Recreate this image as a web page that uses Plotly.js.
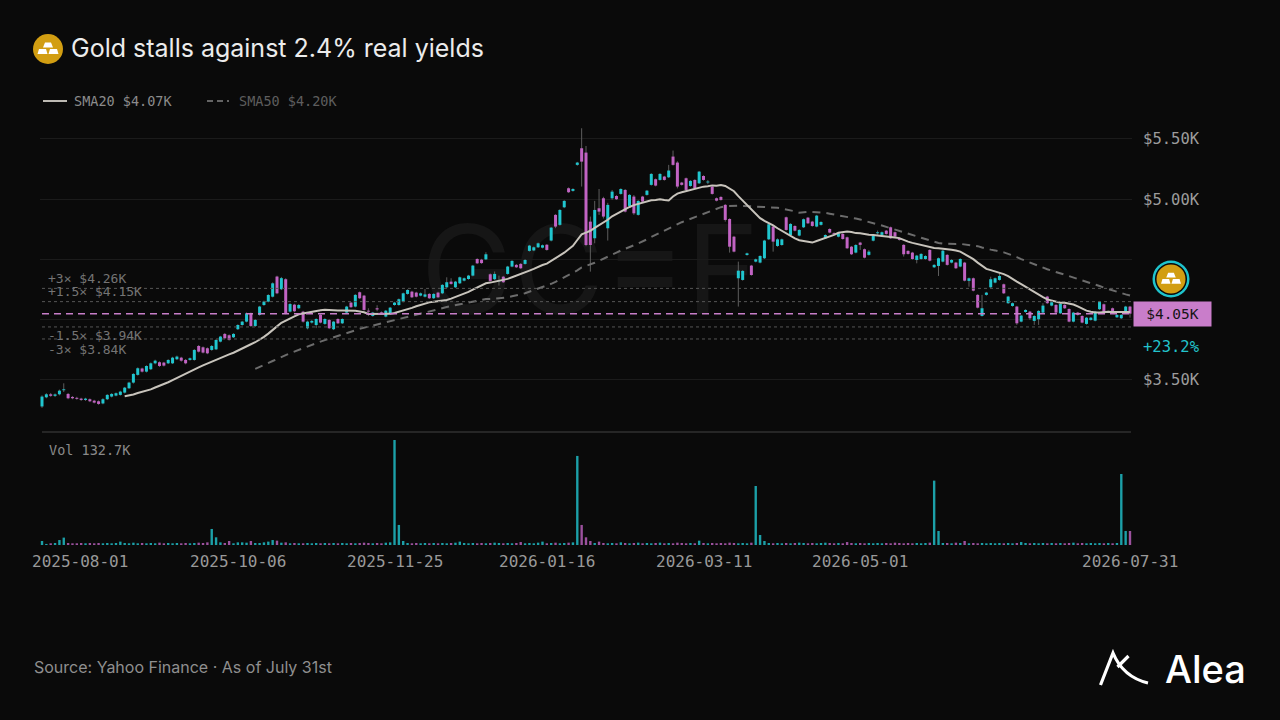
<!DOCTYPE html>
<html>
<head>
<meta charset="utf-8">
<script src="https://cdn.plot.ly/plotly-3.0.1.min.js"></script>
<style>
  html, body { margin: 0; padding: 0; background: #0a0a0a; }
  #chart { width: 1280px; height: 720px; }
</style>
</head>
<body>
<div id="chart"></div>
<script>
// GC=F daily sessions, 2025-08-01 .. 2026-07-31 (251 bars)
const open = [
  3280, 3356, 3381, 3368, 3381, 3415, 3384, 3359, 3350, 3345,
  3334, 3340, 3328, 3323, 3305, 3340, 3362, 3370, 3376, 3395,
  3431, 3478, 3542, 3595, 3569, 3589, 3638, 3647, 3644, 3638,
  3638, 3672, 3685, 3666, 3666, 3666, 3782, 3771, 3763, 3749,
  3754, 3818, 3882, 3871, 3854, 3921, 3956, 3984, 4053, 3948,
  4040, 4122, 4150, 4191, 4358, 4253, 4336, 4067, 4125, 4095,
  4067, 3929, 3976, 3956, 4040, 3965, 3998, 3921, 4006, 3970,
  4059, 4142, 4109, 4228, 4200, 4075, 4031, 4095, 4060, 4026,
  4053, 4122, 4122, 4150, 4214, 4233, 4225, 4200, 4191, 4214,
  4178, 4225, 4219, 4269, 4316, 4269, 4302, 4324, 4338, 4366,
  4504, 4498, 4501, 4377, 4336, 4320, 4357, 4380, 4441, 4455,
  4463, 4463, 4571, 4575, 4601, 4598, 4622, 4657, 4870, 4787,
  4933, 5091, 5069, 5285, 5423, 5387, 4814, 4676, 4925, 5008,
  4759, 5008, 5027, 5044, 5077, 4944, 5022, 4870, 5022, 5036,
  5119, 5166, 5160, 5188, 5182, 5354, 5304, 5138, 5174, 5110,
  5160, 5132, 5193, 5140, 5105, 5008, 5019, 4953, 4836, 4689,
  4344, 4330, 4537, 4449, 4482, 4474, 4510, 4667, 4773, 4612,
  4620, 4850, 4703, 4778, 4698, 4767, 4847, 4814, 4773, 4787,
  4676, 4753, 4717, 4689, 4712, 4684, 4606, 4557, 4640, 4585,
  4538, 4656, 4720, 4704, 4739, 4767, 4726, 4676, 4621, 4571,
  4557, 4496, 4504, 4504, 4579, 4435, 4446, 4482, 4538, 4474,
  4474, 4441, 4474, 4322, 4344, 4206, 4031, 4206, 4269, 4308,
  4330, 4294, 4137, 4114, 4109, 3984, 4064, 4067, 3990, 4004,
  4059, 4192, 4117, 4123, 4053, 4123, 4089, 3984, 4059, 4031,
  3965, 3998, 3992, 4087, 4128, 4064, 4095, 4020, 4012, 4053,
  4109
];
const high = [
  3372, 3390, 3392, 3388, 3420, 3472, 3392, 3366, 3360, 3352,
  3352, 3346, 3335, 3330, 3348, 3382, 3390, 3396, 3410, 3442,
  3485, 3556, 3604, 3602, 3622, 3645, 3668, 3654, 3650, 3672,
  3692, 3702, 3692, 3674, 3686, 3756, 3790, 3778, 3770, 3790,
  3838, 3866, 3890, 3878, 3888, 3962, 3990, 4060, 4060, 4005,
  4115, 4158, 4212, 4310, 4365, 4355, 4344, 4138, 4132, 4130,
  4074, 3992, 3998, 4012, 4046, 4012, 4004, 3990, 4012, 4012,
  4115, 4148, 4212, 4234, 4206, 4095, 4065, 4120, 4068, 4081,
  4106, 4148, 4176, 4225, 4253, 4240, 4232, 4226, 4255, 4220,
  4220, 4232, 4295, 4352, 4344, 4322, 4358, 4350, 4372, 4455,
  4510, 4505, 4560, 4384, 4400, 4366, 4364, 4447, 4494, 4462,
  4470, 4502, 4621, 4607, 4640, 4624, 4628, 4770, 4876, 4917,
  4992, 5098, 5091, 5310, 5589, 5442, 4856, 4986, 5085, 5020,
  4970, 5077, 5034, 5091, 5084, 5042, 5035, 4992, 5028, 5077,
  5216, 5172, 5216, 5194, 5285, 5404, 5315, 5144, 5180, 5158,
  5166, 5235, 5199, 5160, 5111, 5014, 5025, 4960, 4842, 4696,
  4482, 4411, 4557, 4455, 4507, 4535, 4663, 4798, 4779, 4675,
  4673, 4856, 4801, 4784, 4751, 4840, 4853, 4820, 4870, 4817,
  4709, 4759, 4725, 4723, 4718, 4690, 4612, 4627, 4646, 4591,
  4579, 4701, 4740, 4732, 4745, 4773, 4732, 4682, 4627, 4577,
  4563, 4538, 4552, 4535, 4585, 4461, 4516, 4579, 4544, 4502,
  4480, 4510, 4480, 4350, 4350, 4212, 4206, 4231, 4357, 4350,
  4385, 4300, 4198, 4143, 4115, 4040, 4087, 4073, 4037, 4079,
  4137, 4198, 4151, 4129, 4137, 4129, 4095, 4065, 4065, 4037,
  4023, 4023, 4073, 4156, 4134, 4075, 4101, 4046, 4046, 4115,
  4115
];
const low = [
  3268, 3348, 3360, 3358, 3372, 3400, 3340, 3340, 3336, 3326,
  3326, 3316, 3305, 3294, 3298, 3333, 3355, 3364, 3370, 3388,
  3425, 3470, 3536, 3562, 3562, 3582, 3630, 3608, 3612, 3632,
  3632, 3665, 3652, 3630, 3660, 3660, 3728, 3720, 3714, 3742,
  3748, 3812, 3838, 3826, 3848, 3915, 3950, 3978, 3940, 3940,
  4034, 4115, 4144, 4185, 4212, 4246, 4045, 4060, 4062, 4088,
  3976, 3920, 3968, 3930, 3970, 3958, 3922, 3914, 3964, 3964,
  4052, 4098, 4102, 4172, 4075, 4030, 4025, 4070, 4046, 4020,
  4047, 4116, 4116, 4144, 4208, 4180, 4185, 4194, 4185, 4172,
  4172, 4180, 4212, 4262, 4290, 4262, 4296, 4318, 4332, 4360,
  4462, 4464, 4495, 4316, 4330, 4283, 4305, 4374, 4435, 4429,
  4420, 4457, 4565, 4569, 4595, 4592, 4573, 4650, 4760, 4780,
  4926, 5052, 5063, 5278, 5105, 4610, 4399, 4634, 4870, 4840,
  4657, 4995, 4994, 5038, 4890, 4938, 4870, 4864, 4974, 5030,
  5113, 5107, 5154, 5154, 5176, 5279, 5090, 5113, 5071, 5104,
  5085, 5126, 5154, 5125, 5038, 4982, 4988, 4814, 4557, 4559,
  4109, 4324, 4531, 4365, 4476, 4468, 4504, 4661, 4565, 4605,
  4614, 4739, 4697, 4733, 4692, 4761, 4794, 4772, 4767, 4781,
  4670, 4717, 4705, 4683, 4664, 4587, 4537, 4551, 4579, 4509,
  4532, 4650, 4705, 4698, 4706, 4670, 4684, 4656, 4524, 4540,
  4498, 4468, 4498, 4498, 4484, 4429, 4363, 4476, 4449, 4468,
  4421, 4435, 4318, 4274, 4235, 4094, 4026, 4200, 4263, 4302,
  4324, 4213, 4131, 4108, 3957, 3978, 4058, 3998, 3957, 3957,
  4053, 4131, 4111, 4053, 4047, 4089, 3978, 3978, 4034, 3970,
  3959, 3992, 3986, 4081, 4047, 4056, 4056, 4014, 4006, 4047,
  4017
];
const close = [
  3362, 3381, 3368, 3380, 3411, 3422, 3348, 3348, 3345, 3334,
  3345, 3323, 3312, 3301, 3340, 3376, 3384, 3390, 3403, 3436,
  3478, 3550, 3597, 3569, 3616, 3638, 3660, 3616, 3619, 3666,
  3685, 3694, 3660, 3638, 3680, 3749, 3735, 3727, 3721, 3782,
  3832, 3860, 3846, 3832, 3882, 3956, 3984, 4053, 3948, 3998,
  4109, 4150, 4205, 4302, 4219, 4345, 4053, 4130, 4070, 4122,
  3984, 3984, 3990, 4006, 3976, 4006, 3929, 3984, 3970, 4006,
  4109, 4104, 4206, 4178, 4081, 4067, 4059, 4085, 4053, 4075,
  4100, 4142, 4170, 4219, 4247, 4186, 4191, 4219, 4210, 4178,
  4214, 4186, 4289, 4311, 4297, 4316, 4352, 4344, 4366, 4449,
  4468, 4470, 4543, 4322, 4380, 4326, 4311, 4441, 4488, 4435,
  4427, 4496, 4615, 4601, 4634, 4618, 4579, 4764, 4773, 4911,
  4986, 5058, 5085, 5304, 5312, 4620, 4620, 4911, 4897, 4856,
  4953, 5063, 5000, 5085, 4897, 5036, 4883, 4986, 4980, 5071,
  5210, 5113, 5210, 5160, 5238, 5285, 5105, 5119, 5077, 5152,
  5091, 5229, 5160, 5146, 5044, 4988, 4994, 4828, 4606, 4565,
  4407, 4405, 4551, 4371, 4501, 4529, 4657, 4792, 4648, 4667,
  4667, 4745, 4795, 4739, 4745, 4834, 4800, 4778, 4864, 4811,
  4703, 4723, 4712, 4717, 4670, 4593, 4543, 4620, 4621, 4515,
  4565, 4695, 4723, 4726, 4712, 4676, 4690, 4662, 4543, 4546,
  4504, 4532, 4546, 4529, 4490, 4455, 4510, 4573, 4455, 4496,
  4427, 4504, 4324, 4344, 4241, 4100, 4095, 4225, 4336, 4344,
  4363, 4219, 4192, 4137, 3970, 4034, 4081, 4012, 4031, 4073,
  4117, 4137, 4145, 4059, 4131, 4095, 3984, 4059, 4040, 3976,
  4017, 4017, 4067, 4150, 4053, 4067, 4062, 4040, 4040, 4109,
  4050
];
// thousands of contracts
const volume = [
  38, 10, 16, 19, 47, 70, 19, 16, 16, 19,
  16, 19, 16, 19, 16, 19, 16, 19, 32, 19,
  16, 22, 16, 19, 16, 19, 16, 22, 16, 19,
  16, 19, 16, 19, 16, 19, 22, 19, 25, 152,
  73, 25, 19, 38, 16, 25, 25, 22, 38, 19,
  19, 25, 32, 47, 41, 22, 25, 16, 19, 16,
  16, 19, 16, 19, 16, 19, 16, 19, 16, 19,
  16, 19, 16, 19, 22, 19, 16, 19, 16, 22,
  25, 995, 190, 38, 19, 16, 19, 16, 19, 16,
  19, 16, 19, 16, 19, 22, 32, 19, 16, 19,
  16, 19, 16, 19, 22, 19, 16, 19, 16, 19,
  28, 16, 19, 16, 22, 32, 16, 19, 22, 16,
  19, 22, 25, 844, 190, 73, 38, 19, 32, 19,
  16, 19, 16, 25, 19, 16, 19, 22, 16, 19,
  16, 19, 22, 16, 19, 16, 22, 19, 16, 19,
  16, 41, 19, 16, 19, 16, 19, 16, 22, 19,
  16, 19, 16, 22, 559, 95, 38, 19, 16, 19,
  16, 19, 16, 19, 22, 19, 16, 19, 16, 19,
  22, 19, 16, 19, 16, 28, 19, 16, 19, 16,
  19, 16, 19, 16, 19, 16, 22, 19, 16, 19,
  16, 19, 16, 19, 22, 610, 133, 19, 19, 16,
  22, 19, 38, 16, 19, 16, 19, 16, 19, 16,
  19, 16, 19, 16, 19, 28, 19, 16, 19, 16,
  19, 16, 19, 16, 19, 16, 19, 22, 16, 19,
  16, 19, 16, 19, 16, 19, 16, 19, 673, 133,
  132.7
];

const tickIdx = [0, 45, 81, 116, 152, 188, 250];
const tickText = ['2025-08-01', '2025-10-06', '2025-11-25', '2026-01-16', '2026-03-11', '2026-05-01', '2026-07-31'];

const priceTicks = [3500, 4000, 4500, 5000, 5500];
const priceTickText = ['$3.50K', '', '', '$5.00K', '$5.50K'];

const levelNames = ['+3×', '+1.5×', '-1.5×', '-3×'];
const levelValues = [4260, 4150, 3940, 3840];
const levelShift = [10, 10, -9, -11];

const sma20Label = 'SMA20 $4.07K';
const sma50Label = 'SMA50 $4.20K';
const changeLabel = '+23.2%';

// page is drawn with zero margins, so paper coords map straight to pixels
const W = 1280, H = 720;
const px = x => x / W;
const py = y => 1 - y / H;

const UP = '#20c6cf', DOWN = '#c163c3';
const MONO = 'DejaVu Sans Mono';
const SANS = 'Inter';

function sma(values, n) {
  return values.map((v, i) => {
    if (i < n - 1) return null;
    let s = 0;
    for (let k = i - n + 1; k <= i; k++) s += values[k];
    return s / n;
  });
}

const idx = close.map((_, i) => i);
const last = close[close.length - 1];

// wicks and bodies as broken vertical line segments
const wickX = [], wickY = [], upX = [], upY = [], dnX = [], dnY = [];
idx.forEach(i => {
  wickX.push(i, i, null);
  wickY.push(low[i], high[i], null);
  let lo = Math.min(open[i], close[i]), hi = Math.max(open[i], close[i]);
  if (hi - lo < 8) { const m = (hi + lo) / 2; lo = m - 4; hi = m + 4; }
  if (close[i] >= open[i]) { upX.push(i, i, null); upY.push(lo, hi, null); }
  else { dnX.push(i, i, null); dnY.push(lo, hi, null); }
});

const volColors = idx.map(i => close[i] >= open[i] ? 'rgba(32,198,207,0.8)' : 'rgba(193,99,195,0.8)');

const data = [
  { type: 'scatter', mode: 'lines', x: wickX, y: wickY, line: { color: '#5e5e5e', width: 1 }, hoverinfo: 'skip' },
  { type: 'scatter', mode: 'lines', x: upX, y: upY, line: { color: UP, width: 3 }, hoverinfo: 'skip' },
  { type: 'scatter', mode: 'lines', x: dnX, y: dnY, line: { color: DOWN, width: 3 }, hoverinfo: 'skip' },
  { type: 'scatter', mode: 'lines', x: idx, y: sma(close, 50), line: { color: '#6c6c6c', width: 2, dash: '8px,6px' }, hoverinfo: 'skip' },
  { type: 'scatter', mode: 'lines', x: idx, y: sma(close, 20), line: { color: '#c8c4bc', width: 2 }, hoverinfo: 'skip' },
  { type: 'bar', x: idx, y: volume, yaxis: 'y2', width: 0.55, marker: { color: volColors, line: { width: 0 } }, hoverinfo: 'skip' }
];

function circle(cx, cy, r, color) {
  return { type: 'circle', xref: 'paper', yref: 'paper', x0: px(cx - r), x1: px(cx + r), y0: py(cy + r), y1: py(cy - r), fillcolor: color, line: { width: 0 } };
}

// three stacked gold bars
function goldGlyph(cx, cy, s) {
  const bars = [
    [[-3, -6.5], [3, -6.5], [5, -1.5], [-5, -1.5]],
    [[-9, 0], [-2, 0], [-0.5, 5], [-10.5, 5]],
    [[2, 0], [9, 0], [10.5, 5], [0.5, 5]]
  ];
  return bars.map(b => ({
    type: 'path', xref: 'paper', yref: 'paper',
    path: 'M' + b.map(([dx, dy]) => px(cx + dx * s) + ',' + py(cy + dy * s)).join(' L') + ' Z',
    fillcolor: '#ffffff', line: { width: 0 }
  }));
}

function pathPx(d) {
  return d.replace(/(-?[\d.]+),(-?[\d.]+)/g, (m, a, b) => px(+a) + ',' + py(+b));
}

const shapes = [
  { type: 'rect', xref: 'paper', yref: 'paper', x0: px(400), x1: px(780), y0: py(330), y1: py(200), layer: 'below',
    fillcolor: 'rgba(0,0,0,0)', line: { width: 0 },
    label: { text: 'GC=F', textposition: 'middle center', font: { family: SANS, size: 124, color: '#161616' } } },
  { type: 'line', xref: 'paper', yref: 'paper', x0: px(42), x1: px(1131), y0: py(432), y1: py(432), line: { color: '#262626', width: 2 } },
  ...levelValues.map(v => ({ type: 'line', xref: 'paper', yref: 'y', x0: px(42), x1: px(1131), y0: v, y1: v, line: { color: '#565656', width: 1, dash: '3px,3px' } })),
  { type: 'line', xref: 'paper', yref: 'y', x0: px(42), x1: px(1131), y0: last, y1: last, line: { color: '#c87ec9', width: 1.5, dash: '7px,5px' } },
  // legend swatches
  { type: 'line', xref: 'paper', yref: 'paper', x0: px(43), x1: px(67), y0: py(101), y1: py(101), line: { color: '#bdbab3', width: 2 } },
  { type: 'line', xref: 'paper', yref: 'paper', x0: px(207), x1: px(229), y0: py(101), y1: py(101), line: { color: '#646464', width: 2, dash: '6px,4px' } },
  // title icon
  circle(48, 49, 15, '#d29e12'),
  ...goldGlyph(48, 49, 1),
  // price badge
  circle(1171, 279, 18.5, '#1fc4cd'),
  circle(1171, 279, 16, '#0a0a0a'),
  circle(1171, 279, 14.5, '#d29e12'),
  ...goldGlyph(1171, 279, 0.95),
  // Alea mark
  { type: 'path', xref: 'paper', yref: 'paper', path: pathPx('M1100.5,685 L1113,653 Q1123,677 1148,683'), line: { color: '#ffffff', width: 3.2 } },
  { type: 'path', xref: 'paper', yref: 'paper', path: pathPx('M1128.5,656 L1117.5,667'), line: { color: '#ffffff', width: 3.2 } }
];

const annotations = [
  { xref: 'paper', yref: 'paper', x: px(69), y: py(48), xanchor: 'left', yanchor: 'middle', showarrow: false,
    text: 'Gold stalls against 2.4% real yields', font: { family: SANS, size: 25, color: '#ececec' } },
  { xref: 'paper', yref: 'paper', x: px(72), y: py(101), xanchor: 'left', yanchor: 'middle', showarrow: false,
    text: sma20Label, font: { family: MONO, size: 13.5, color: '#8c8c8c' } },
  { xref: 'paper', yref: 'paper', x: px(237), y: py(101), xanchor: 'left', yanchor: 'middle', showarrow: false,
    text: sma50Label, font: { family: MONO, size: 13.5, color: '#5e5e5e' } },
  ...levelValues.map((v, k) => ({
    xref: 'paper', yref: 'y', x: px(47), y: v, xanchor: 'left', yanchor: 'middle', showarrow: false,
    yshift: levelShift[k], borderpad: 0,
    text: levelNames[k] + ' $' + (v / 1000).toFixed(2) + 'K', font: { family: MONO, size: 13, color: '#747474' }
  })),
  { xref: 'paper', yref: 'y', x: px(1133), y: last, xanchor: 'left', yanchor: 'middle', showarrow: false,
    text: '$' + (last / 1000).toFixed(2) + 'K', bgcolor: '#c97dca', borderpad: 4, width: 69, height: 16, align: 'center',
    font: { family: MONO, size: 14.5, color: '#151515' } },
  { xref: 'paper', yref: 'paper', x: px(1171), y: py(347), xanchor: 'center', yanchor: 'middle', showarrow: false,
    text: changeLabel, font: { family: MONO, size: 15.5, color: '#22c3cc' } },
  { xref: 'paper', yref: 'paper', x: px(47), y: py(450), xanchor: 'left', yanchor: 'middle', showarrow: false,
    text: 'Vol ' + volume[volume.length - 1].toFixed(1) + 'K', font: { family: MONO, size: 13.5, color: '#8a8a8a' } },
  ...tickIdx.map((t, k) => ({
    xref: 'x', yref: 'paper', x: t, y: py(561), xanchor: k === 0 ? 'left' : 'center', xshift: k === 0 ? -12 : 0,
    yanchor: 'middle', showarrow: false, text: tickText[k], font: { family: MONO, size: 16, color: '#999999' }
  })),
  { xref: 'paper', yref: 'paper', x: px(32), y: py(667), xanchor: 'left', yanchor: 'middle', showarrow: false,
    text: 'Source: Yahoo Finance · As of July 31st', font: { family: SANS, size: 16, color: '#8f8f8f' } },
  { xref: 'paper', yref: 'paper', x: px(1163), y: py(669), xanchor: 'left', yanchor: 'middle', showarrow: false,
    text: 'Alea', font: { family: SANS, size: 38, weight: 500, color: '#ffffff' } }
];

const layout = {
  width: W, height: H,
  margin: { l: 0, r: 0, t: 0, b: 0 },
  paper_bgcolor: '#0a0a0a',
  plot_bgcolor: 'rgba(0,0,0,0)',
  showlegend: false,
  hovermode: false,
  xaxis: { domain: [px(40), px(1132)], range: [-0.46, close.length - 1 + 0.46], anchor: 'y2',
    showgrid: false, zeroline: false, showline: false, showticklabels: false, ticks: '' },
  yaxis: { domain: [py(432), py(125)], range: [3068, 5616], side: 'right', anchor: 'x',
    tickvals: priceTicks, ticktext: priceTickText, showgrid: true, gridcolor: '#1b1b1b', gridwidth: 1,
    zeroline: false, showline: false, ticks: 'outside', ticklen: 7, tickcolor: 'rgba(0,0,0,0)',
    tickfont: { family: MONO, size: 15.5, color: '#9c9c9c' } },
  yaxis2: { domain: [py(545), py(440)], range: [0, Math.max(...volume)], anchor: 'x',
    showgrid: false, zeroline: false, showline: false, showticklabels: false, ticks: '' },
  shapes: shapes,
  annotations: annotations
};

Plotly.newPlot('chart', data, layout, { staticPlot: true, displayModeBar: false });
</script>
</body>
</html>
